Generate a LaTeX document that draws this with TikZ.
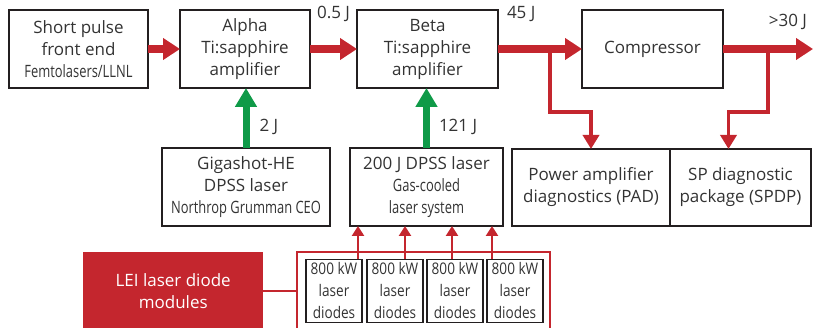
\documentclass[tikz,border=0pt]{standalone}
\usepackage{fontspec}
\setmainfont{Open Sans}
\newfontfamily\condfont[FakeStretch=0.76]{Open Sans}
\newfontfamily\diodefont[FakeStretch=0.85]{Open Sans}
\usetikzlibrary{positioning,arrows.meta,calc}
\definecolor{lpred}{HTML}{C4262E}
\definecolor{lpgreen}{HTML}{0F9A48}
\definecolor{lpdark}{HTML}{231F20}
\definecolor{lptext}{HTML}{333333}
\newcommand\cond{\condfont\fontsize{17}{19.5}\selectfont}
\newcommand\dtext{\diodefont\fontsize{16}{17.5}\selectfont}

\begin{document}
\begin{tikzpicture}[x=1pt,y=-1pt,
  font=\fontsize{17}{22}\selectfont, text=lptext,
  box/.style={draw=lpdark,line width=2.6pt,outer sep=0pt,align=center,
              minimum height=78pt,inner sep=2pt},
  diode/.style={draw=lpdark,line width=1.6pt,outer sep=0pt,align=center,minimum width=56pt,
                minimum height=63pt,inner sep=1pt},
  beam/.style={lpred,line width=8pt,-{Triangle[length=17pt,width=21pt]}},
  pump/.style={lpgreen,line width=7pt,-{Triangle[length=19pt,width=21pt]}},
  tap/.style={lpred,line width=3.6pt,-{Triangle[length=14pt,width=16pt]}},
  feed/.style={lpred,line width=2.4pt,-{Triangle[length=10pt,width=12pt]}},
  lbl/.style={inner sep=1pt,text=lptext}]

  \clip (0,0) rectangle (814,328);

  % top row: beam line
  \node[box,minimum width=139pt] (front) at (78.5,49) {Short pulse\\front end\\\cond Femtolasers/LLNL};
  \node[box,minimum width=130pt,right=32pt of front] (alpha) {Alpha\\Ti:sapphire\\amplifier};
  \node[box,minimum width=141pt,right=47pt of alpha] (beta) {Beta\\Ti:sapphire\\amplifier};
  \node[box,minimum width=141pt,right=84pt of beta] (comp) {Compressor};
  \coordinate (out) at ([xshift=90pt]comp.east);

  % pump lasers
  \node[box,minimum width=168pt] (giga) at (246,187) {Gigashot-HE\\DPSS laser\\\cond Northrop Grumman CEO};
  \node[box,minimum width=153pt] (dpss) at (426.5,187) {200 J DPSS laser\\\cond Gas-cooled\\\cond laser system};

  % diagnostics
  \node[box,minimum width=158pt,minimum height=77pt] (pad) at (591,187.5) {Power amplifier\\diagnostics (PAD)};
  \node[box,minimum width=141pt,minimum height=77pt,right=0pt of pad] (spdp) {SP diagnostic\\package (SPDP)};

  % diode modules
  \node[fill=lpred,text=white,align=center,minimum width=180pt,minimum height=78pt,
        anchor=north west] (lei) at (83,252) {LEI laser diode\\modules};
  \node[draw=lpred,line width=2.6pt,outer sep=0pt,minimum width=253pt,minimum height=85pt,
        anchor=north west] (bank) at (297,252) {};
  \foreach \i/\x in {1/334,2/395,3/455,4/515}
    \node[diode] (d\i) at (\x,291) {\dtext 800 kW\\\dtext laser\\\dtext diodes};

  % taps to diagnostics
  \coordinate (tapA) at ($(beta.east)!0.62!(comp.west)$);
  \coordinate (tapB) at ($(comp.east)!0.5!(out)$);
  \draw[tap] (tapA) -- ++(0,63) -| (pad.north);
  \draw[tap] (tapB) -- ++(0,63) -| ([xshift=-12pt]spdp.north);

  % beams
  \draw[beam] (front) -- (alpha);
  \draw[beam] (alpha) -- node[lbl,above=22pt]{0.5 J} (beta);
  \draw[beam] (beta) -- node[lbl,pos=0,anchor=south west,xshift=4pt,yshift=22pt]{45 J} (comp);
  \draw[beam] (comp) -- node[lbl,pos=1,anchor=south east,xshift=-1pt,yshift=14pt]{>30 J} (out);

  % pumping
  \draw[pump] (giga) -- node[lbl,pos=0.35,right=9pt]{2 J} (giga |- alpha.south);
  \draw[pump] (dpss) -- node[lbl,pos=0.35,right=8pt]{121 J} (dpss |- beta.south);
  \foreach \i/\x in {1/358,2/405,3/452,4/492}
    \draw[feed] (d\i.north -| \x,0) -- (dpss.south -| \x,0);
  \draw[lpred,line width=2.6pt] (lei) -- (lei -| bank.west);
\end{tikzpicture}
\end{document}
